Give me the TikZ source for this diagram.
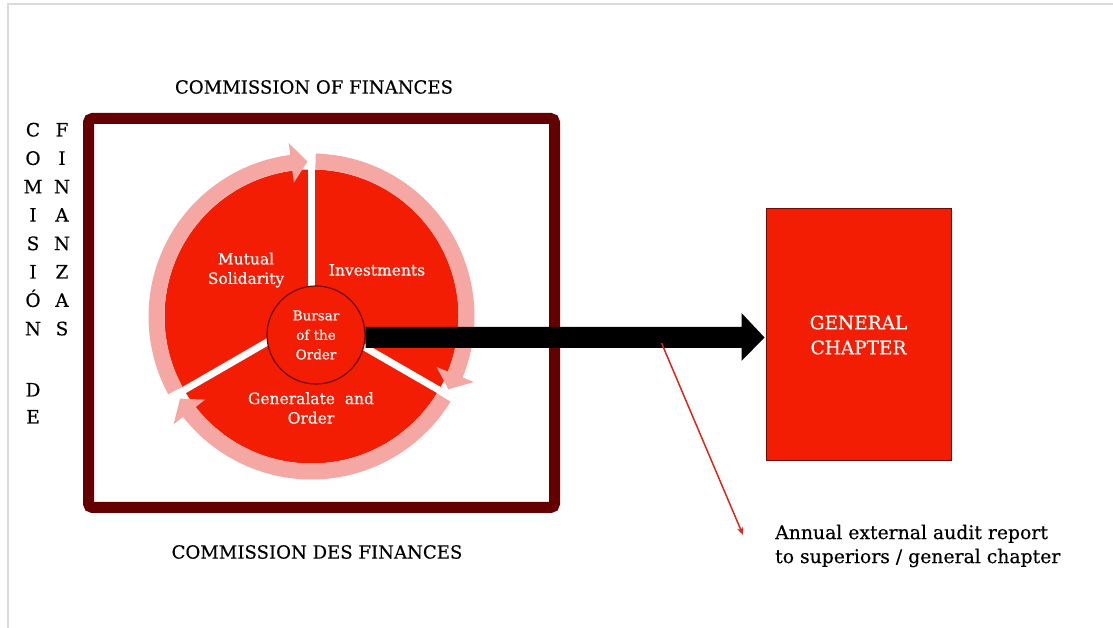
\documentclass[tikz,border=0pt]{standalone}
\usepackage{fontspec}
\setmainfont{DejaVu Serif}[FakeBold=0.35]
\usetikzlibrary{calc,arrows.meta}
\definecolor{redc}{RGB}{243,29,3}
\definecolor{pinkc}{RGB}{245,167,163}
\definecolor{maroonc}{RGB}{100,0,0}
\definecolor{framegray}{RGB}{218,218,218}
\definecolor{auditred}{RGB}{214,40,28}
\definecolor{gcborder}{RGB}{110,10,0}
\begin{document}
\begin{tikzpicture}[x=1pt,y=1pt,
  titletext/.style={inner sep=0, font=\fontsize{18.1}{22}\selectfont},
  vt/.style={inner sep=0, anchor=base, font=\fontsize{18.5}{20}\selectfont},
  slicetext/.style={inner sep=0, text=white, align=center, font=\fontsize{15.5}{19.5}\selectfont},
  pinkarrow/.style={fill=pinkc}]
\useasboundingbox (0,0) rectangle (1113,628);
\fill[white] (0,0) rectangle (1113,628);
\draw[framegray, line width=2] (8,0) -- (8,624) -- (1113,624);

% outer frame
\node[draw=maroonc, line width=11, rounded corners=4, minimum width=466, minimum height=389, inner sep=0] (frame) at (321.5,315) {};

% titles
\node[titletext] (t1) at (314,541) {COMMISSION OF FINANCES};
\node[titletext] (t2) at (317,76) {COMMISSION DES FINANCES};

% vertical letters
\foreach \l [count=\i from 0] in {C,O,M,I,S,I,Ó,N}
  \node[vt] (va\i) at (33,{491.5-28.4*\i}) {\l};
\foreach \l [count=\i from 0] in {F,I,N,A,N,Z,A,S}
  \node[vt] (vb\i) at (62,{491.5-28.4*\i}) {\l};
\node[vt] (vd) at (33,231.5) {D};
\node[vt] (ve) at (33,204.5) {E};

% pie
\coordinate (pc) at (311.5,311.5);
\fill[redc] (pc) circle[radius=147];
\foreach \a in {90,210,330}
  \draw[white, line width=7] (pc) -- ++(\a:151);

\begin{scope}[shift={(pc)}]
\fill[pinkarrow] (208.5:163) arc[start angle=208.5, end angle=97.5, radius=163]
   -- (97.5:175) -- (91.5:155) -- (97.5:135) -- (97.5:147)
   arc[start angle=97.5, end angle=208.5, radius=147] -- cycle;
\fill[pinkarrow] (88.5:163) arc[start angle=88.5, end angle=-22, radius=163]
   -- (-22:175) -- (-28:155) -- (-22:135) -- (-22:147)
   arc[start angle=-22, end angle=88.5, radius=147] -- cycle;
\fill[pinkarrow] (-31.5:163) arc[start angle=-31.5, end angle=-142, radius=163]
   -- (-142:175) -- (-148:155) -- (-142:135) -- (-142:147)
   arc[start angle=-142, end angle=-31.5, radius=147] -- cycle;
\end{scope}

% slice labels
\node[slicetext] (ms) at (246,358) {Mutual\\Solidarity};
\node[slicetext] (inv) at (377,358) {Investments};
\node[slicetext] (gen) at (311,220) {Generalate\ \ and\\Order};

% bursar
\node[circle, fill=redc, draw=gcborder, line width=1.2, minimum size=98, inner sep=0,
      text=white, align=center, font=\fontsize{13.5}{19.5}\selectfont] (bursar) at (316,293) {Bursar\\of the\\Order};

% general chapter
\node[draw=gcborder, fill=redc, line width=1, minimum width=185, minimum height=252, inner sep=0,
      text=white, align=center, font=\fontsize{18.5}{25}\selectfont] (gc) at (858.5,293) {GENERAL\\CHAPTER};

% black arrow
\fill[black] ($(bursar.east)+(0,8)$) -- ($(gc.west)+(-24,8)$) -- ($(gc.west)+(-24,22)$)
  -- ($(gc.west)+(-1,-2.5)$) -- ($(gc.west)+(-24,-26)$) -- ($(gc.west)+(-24,-13)$)
  -- ($(bursar.east)+(0,-13)$) -- cycle;

% audit line and text
\coordinate (au1) at ($(bursar.east)!0.74!(gc.west)+(0,-8)$);
\coordinate (au2) at (743,93);
\draw[auditred, line width=1.5, -{Stealth[length=8pt,width=6pt]}] (au1) -- (au2);
\node[anchor=west, align=left, inner sep=0, font=\fontsize{18.8}{24}\selectfont] (audit) at (775,82)
  {Annual external audit report\\to superiors / general chapter};
\end{tikzpicture}
\end{document}
